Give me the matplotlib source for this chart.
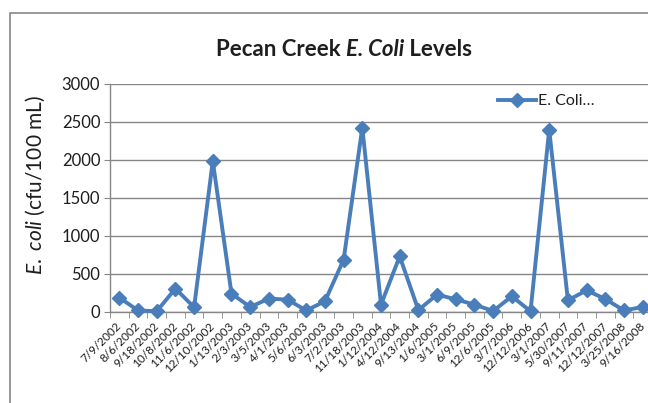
import matplotlib
matplotlib.use('Agg')
import matplotlib.pyplot as plt
import numpy as np
from matplotlib.patches import Rectangle
from matplotlib.offsetbox import TextArea, HPacker, AnchoredOffsetbox
from matplotlib.font_manager import FontProperties

plt.rcParams['font.family'] = ['Lato', 'DejaVu Sans']
plt.rcParams['mathtext.fontset'] = 'custom'
plt.rcParams['mathtext.rm'] = 'Lato'
plt.rcParams['mathtext.it'] = 'Lato:italic'

# sampling dates and E. coli counts (cfu/100 mL)
dates = ['7/9/2002', '8/6/2002', '9/18/2002', '10/8/2002', '11/6/2002',
         '12/10/2002', '1/13/2003', '2/3/2003', '3/5/2003', '4/1/2003',
         '5/6/2003', '6/3/2003', '7/2/2003', '11/18/2003', '1/12/2004',
         '4/12/2004', '9/13/2004', '1/6/2005', '3/1/2005', '6/9/2005',
         '12/6/2005', '3/7/2006', '12/12/2006', '3/1/2007', '5/30/2007',
         '9/11/2007', '12/12/2007', '3/25/2008', '9/16/2008']
ecoli = [189, 20, 10, 308, 62, 1987, 242, 66, 176, 163,
         20, 141, 689, 2426, 97, 733, 25, 229, 167, 97,
         13, 207, 10, 2400, 154, 285, 171, 20, 66]

yticks = [0, 500, 1000, 1500, 2000, 2500, 3000]
blue = '#4A7EBB'
grey = '#868686'
txt = '#1e1e1e'

fig = plt.figure(figsize=(6.48, 4.03), dpi=100)

# chart border (only left/top are visible in the crop)
fig.patches.append(Rectangle((10/648, -0.1), 1.2, 1.1 - 13/403,
                             transform=fig.transFigure, fill=False,
                             edgecolor=grey, lw=1.2))

ax = fig.add_axes([110/648, (403-312)/403, (652-110)/648, (312-84)/403])
x = np.arange(len(dates))
ax.plot(x, ecoli, color=blue, lw=2.8, marker='D', markersize=7.5,
        label='E. Coli…', clip_on=False, zorder=3)

ax.set_xlim(-0.5, len(dates) - 0.5)
ax.set_ylim(0, 3000)
ax.set_yticks(yticks)
ax.set_yticklabels([str(v) for v in yticks], fontsize=12, color=txt)
# label anchors nudged a bit left of each category centre (ticks are hidden)
ax.set_xticks(x - 0.2)
ax.set_xticklabels(dates, rotation=45, ha='right', va='top',
                   rotation_mode='anchor', fontsize=8.5, color=txt)
ax.set_xticks(np.arange(-0.5, len(dates)), minor=True)
ax.tick_params(axis='x', which='major', length=0, pad=6)
ax.tick_params(axis='x', which='minor', length=4, color=grey, direction='out')
ax.tick_params(axis='y', length=4, color=grey, pad=3)
ax.grid(axis='y', color=grey, lw=1)
ax.set_axisbelow(True)
for s in ['top', 'right']:
    ax.spines[s].set_visible(False)
for s in ['left', 'bottom']:
    ax.spines[s].set_color(grey)
    ax.spines[s].set_linewidth(1)

fig.text(35/648, 1 - 185/403, '$\\mathit{E.}$ $\\mathit{coli}$ (cfu/100 mL)',
         rotation=90, ha='center', va='center', fontsize=15,
         color=txt)

ax.legend(loc='center left', bbox_to_anchor=(490/648, 1 - 101/403),
          bbox_transform=fig.transFigure, frameon=False, fontsize=11.5,
          handlelength=2.4, handletextpad=0.1, borderpad=0,
          labelcolor=txt)

# title with italic part
bold = FontProperties(family='Lato', weight='bold', size=16)
bold_it = FontProperties(family='Lato', weight='bold', style='italic', size=16)
parts = [TextArea('Pecan Creek ', textprops=dict(fontproperties=bold, color=txt)),
         TextArea('E. Coli', textprops=dict(fontproperties=bold_it, color=txt)),
         TextArea(' Levels', textprops=dict(fontproperties=bold, color=txt))]
box = HPacker(children=parts, align='baseline', pad=0, sep=0)
title = AnchoredOffsetbox(loc='center', child=box, frameon=False,
                          bbox_to_anchor=(344/648, 1 - 50/403),
                          bbox_transform=fig.transFigure, pad=0, borderpad=0)
fig.add_artist(title)

fig.savefig('out.png', dpi=100)
